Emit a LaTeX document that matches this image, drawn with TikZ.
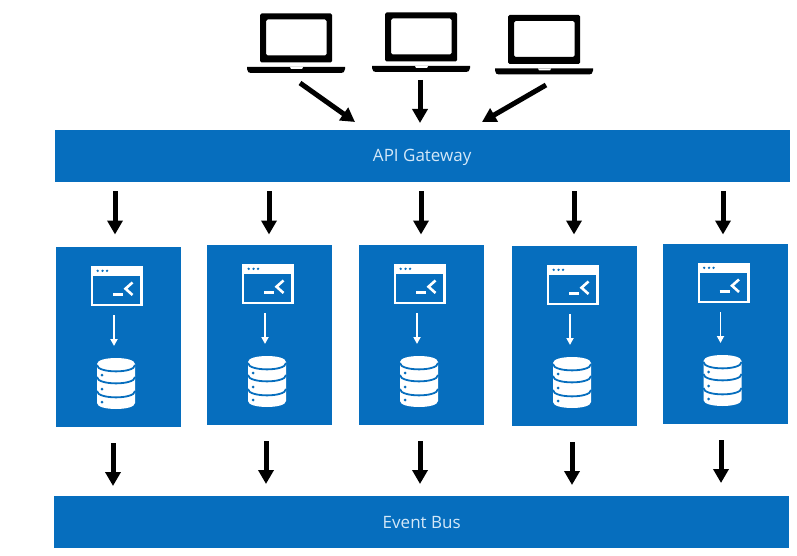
\documentclass[tikz,border=0pt]{standalone}
\usepackage{fontspec}
\setmainfont{Open Sans}
\usetikzlibrary{arrows.meta}
\definecolor{barblue}{HTML}{066EBE}
\definecolor{labelblue}{HTML}{D4E8F8}
\tikzset{
  bar/.style={draw=none, fill=barblue, anchor=north west, inner sep=0pt, minimum width=735pt, minimum height=52pt, text=labelblue, text height=12.5pt, text depth=0pt, font=\fontsize{17}{20}\selectfont},
  service/.style={fill=barblue, anchor=north west, inner sep=0pt, minimum width=125pt, minimum height=180pt},
  bigarrow/.style={line width=5pt, -{Triangle[width=15pt,length=14pt]}},
  smallarrow/.style={white, line width=1.8pt, -{Triangle[width=7pt,length=7pt]}},
  laptop/.pic={
    \fill[black, rounded corners=1.5pt, even odd rule] (13,0) rectangle (85,49) (19,6) rectangle (79.5,42);
    \fill[black] (0,53.5) -- (98,53.5) -- (98,55.5) .. controls (98,58.5) and (96,59.5) .. (94,59.5) -- (4,59.5) .. controls (2,59.5) and (0,58.5) .. (0,55.5) -- cycle;
    \fill[white] (43,53.5) -- (56,53.5) -- (55,55.5) -- (44,55.5) -- cycle;
  },
  svcicon/.pic={
    % window
    \fill[white] (35,18.5) rectangle (87,59);
    \fill[barblue] (37,29) rectangle (84,56.5);
    \foreach \d in {41.7,46.5,51} \fill[barblue] (\d,23.8) circle (1.3pt);
    \draw[white, line width=2.2pt] (57,47.5) -- (67,47.5);
    \draw[white, line width=2.6pt] (76.5,35.5) -- (69.5,41.7) -- (76.5,48);
    \coordinate (-from) at (58,68);
    \coordinate (-to) at (58,99);
    % database
    \fill[white] (41,117) .. controls (41,109) and (79,109) .. (79,117) -- (79,156) .. controls (79,164) and (41,164) .. (41,156) -- cycle;
    \foreach \b in {118,130,144} \draw[barblue, line width=1.8pt] (41,\b) .. controls (41,\b+8.5) and (79,\b+8.5) .. (79,\b);
    \foreach \b in {128,142,155} \fill[barblue] (46,\b) circle (1.5pt);
  },
}
\begin{document}
\begin{tikzpicture}[x=1pt, y=-1pt]
  \useasboundingbox (0,0) rectangle (797,556);
  % laptops
  \pic at (247,13.5) {laptop};
  \pic at (372,12.5) {laptop};
  \pic at (495,15) {laptop};
  \node[bar] (gateway) at (54.5,129.5) {API Gateway};
  \node[bar] (eventbus) at (54,496) {Event Bus};
  \coordinate (laptopa) at (300,83);
  \coordinate (laptopb) at (420,80);
  \coordinate (laptopc) at (546,85);
  \coordinate (tipa) at (355,122);
  \coordinate (tipb) at (420,123);
  \coordinate (tipc) at (482,122);
  \draw[bigarrow] (laptopa) -- (tipa);
  \draw[bigarrow] (laptopb) -- (tipb);
  \draw[bigarrow] (laptopc) -- (tipc);
  % services
  \foreach \i/\x/\y/\a/\b in {1/56/247/115/113, 2/207/245/269/266, 3/359/245/421/420, 4/512/246/574/572, 5/662.5/244/723/721} {
    \node[service] (svc\i) at (\x,\y) {};
    \pic (icon\i) at (\x,\y) {svcicon};
    \draw[smallarrow] (icon\i-from) -- (icon\i-to);
    \coordinate (in\i) at (\a,191);
    \coordinate (ink\i) at (\a,234.5);
    \coordinate (out\i) at (\b,\y+196);
    \coordinate (outk\i) at (\b,\y+239);
    \draw[bigarrow] (in\i) -- (ink\i);
    \draw[bigarrow] (out\i) -- (outk\i);
  }
\end{tikzpicture}
\end{document}
